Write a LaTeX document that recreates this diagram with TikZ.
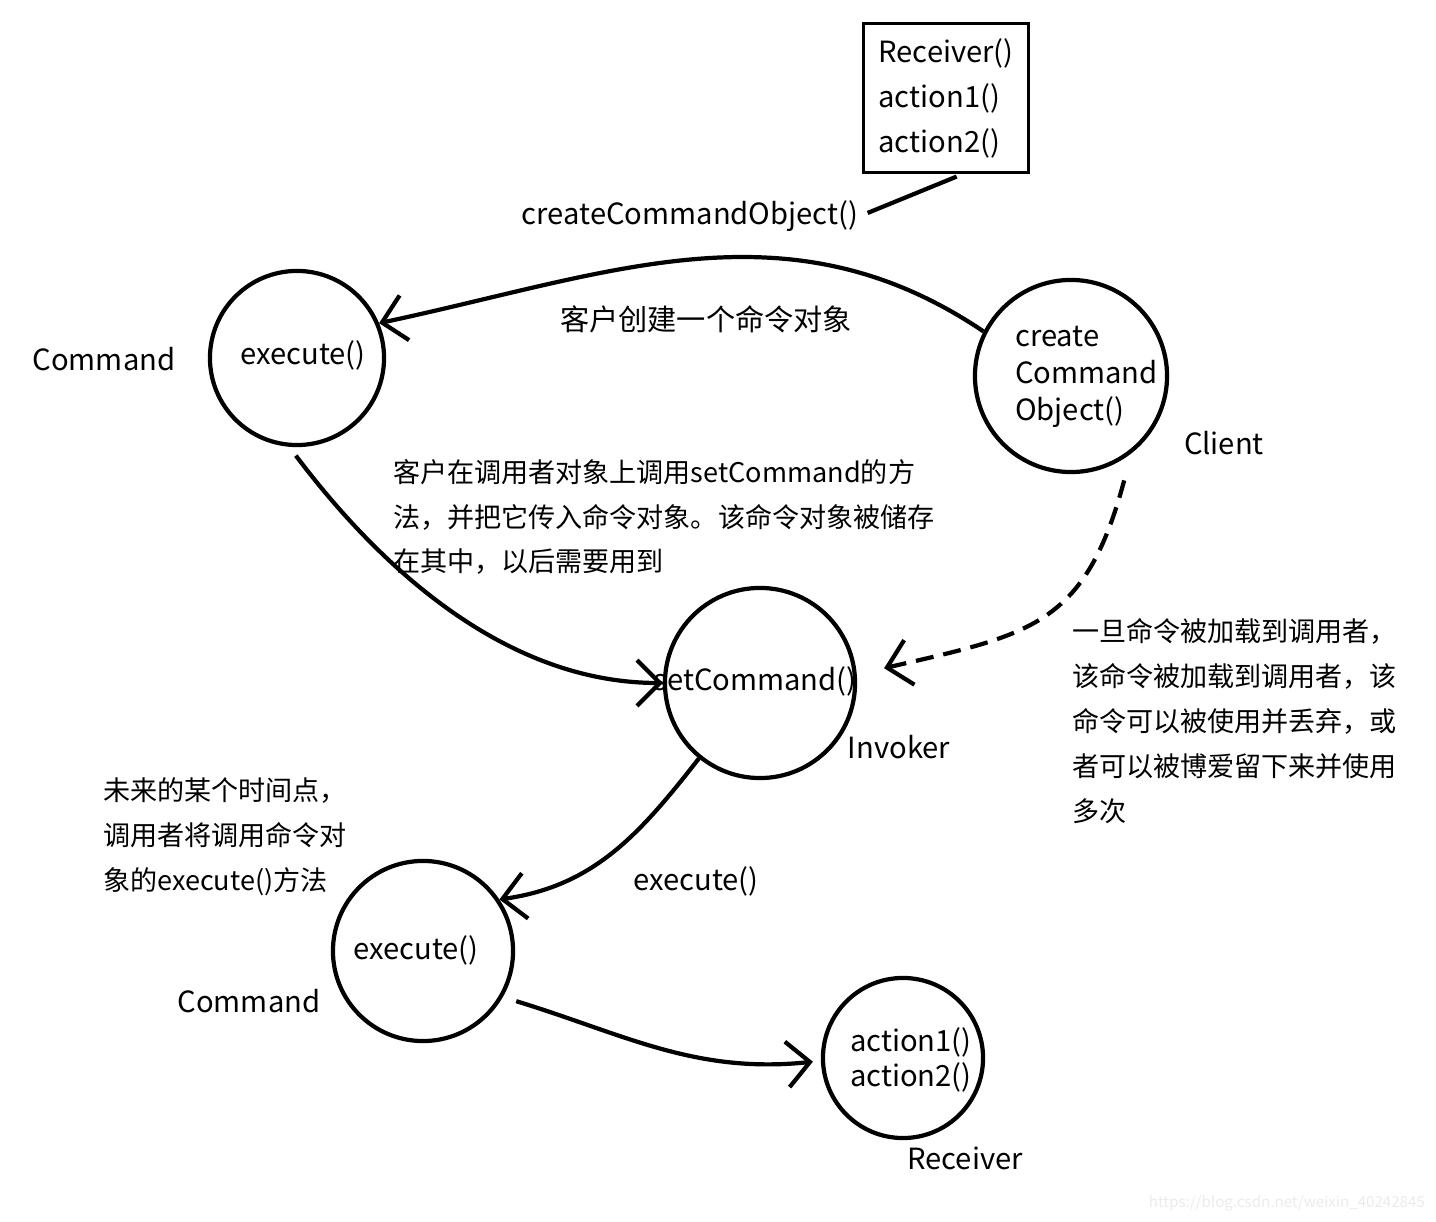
\documentclass[tikz,border=0pt]{standalone}
\usepackage{fontspec}
\setmainfont{Noto Sans CJK SC}
\usetikzlibrary{arrows.meta}
\begin{document}
\begin{tikzpicture}[x=0.01cm, y=-0.01cm, line width=1.2pt,
    >={Straight Barb[length=6.5pt,width=13pt]},
    every node/.style={font=\fontsize{8.3}{12.9}\selectfont, inner sep=0pt},
    main node/.style={circle,draw,line width=1.2pt},
    note text/.style={align=left,anchor=west,font=\fontsize{7.7}{12.75}\selectfont},
    mark text/.style={anchor=east,font=\fontsize{4.3}{5}\selectfont, text=black!8}]

    \useasboundingbox (0,0) rectangle (1436,1222);

    % circles
    \node[main node, minimum size=1.74cm] at (297,358) (cmdA) {};
    \node[main node, minimum size=1.92cm] at (1071,376) (client) {};
    \node[main node, minimum size=1.90cm] at (760,683) (inv) {};
    \node[main node, minimum size=1.80cm] at (423,951) (cmdB) {};
    \node[main node, minimum size=1.60cm] at (903,1058) (rec) {};

    % receiver box
    \node[draw, line width=1pt, minimum width=1.65cm, minimum height=1.49cm, align=left,
        font=\fontsize{8.3}{12.8}\selectfont] at (946,98) (box) {Receiver()\\action1()\\action2()};

    % texts
    \node at (104,359) (cmdAlabel) {Command};
    \node at (303,355) (execA) {execute()};
    \node[note text, font=\fontsize{8.3}{10.5}\selectfont] at (1013,377) (cco) {create\\Command\\Object()};
    \node at (1224,443) (clientlabel) {Client};
    \node at (690,216) (ccotext) {createCommandObject()};
    \node at (706,319) (step1) {客户创建一个命令对象};
    \node[note text] at (391,517) (step2) {客户在调用者对象上调用setCommand的方\\法，并把它传入命令对象。该命令对象被储存\\在其中，以后需要用到};
    \node at (755,681) (setcmd) {setCommand()};
    \node at (899,747) (invlabel) {Invoker};
    \node[note text] at (1070,721) (step3) {一旦命令被加载到调用者，\\该命令被加载到调用者，该\\命令可以被使用并丢弃，或\\者可以被博爱留下来并使用\\多次};
    \node[note text] at (101,837) (step4) {未来的某个时间点，\\调用者将调用命令对\\象的execute()方法};
    \node at (696,881) (execlabel) {execute()};
    \node at (416,950) (execB) {execute()};
    \node at (249,1001) (cmdBlabel) {Command};
    \node[note text, font=\fontsize{8.3}{10}\selectfont] at (848,1060) (actions) {action1()\\action2()};
    \node at (965,1158) (reclabel) {Receiver};
    \node[mark text] at (1427,1203) (mark) {https://blog.csdn.net/weixin\_40242845};

    % connectors
    \draw[shorten <=0.08cm, shorten >=0.06cm] (ccotext.east) -- (box.-78);
    \draw[->] (client.153) to[out=146, in=12] (cmdA.23);
    \draw[->, shorten <=0.11cm] (cmdA.265) to[out=-53, in=180, looseness=0.9] (inv.west);
    \draw[->, dashed, dash pattern=on 0.18cm off 0.1cm, shorten <=0.28cm, shorten >=0.28cm]
        (client.-52) to[out=-105, in=13, looseness=1.3] (inv.5);
    \draw[->] (inv.231) to[out=232, in=8] (cmdB.34);
    \draw[->, shorten <=0.14cm, shorten >=0.08cm] (cmdB.-30) to[out=-17, in=186] (rec.182);
\end{tikzpicture}
\end{document}
